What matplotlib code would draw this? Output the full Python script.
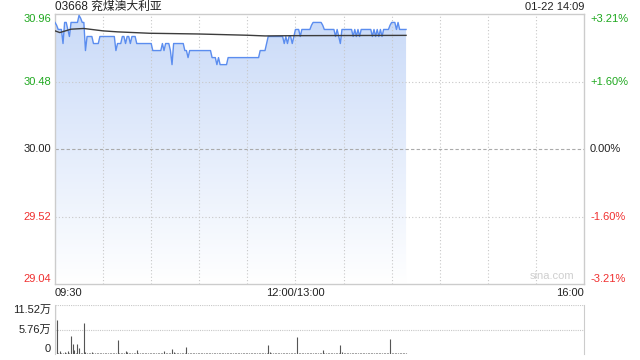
import numpy as np
import matplotlib
matplotlib.use("Agg")
import matplotlib.pyplot as plt
from matplotlib.patches import Polygon
from matplotlib.colors import to_rgb

plt.rcParams['font.family'] = ['Liberation Sans', 'Noto Sans CJK SC', 'DejaVu Sans']

# 分时数据 (每分钟, 09:30 起)
price = [
    30.90, 30.88, 30.85, 30.85, 30.85, 30.75, 30.90, 30.90, 30.85, 30.80,
    30.90, 30.90, 30.90, 30.90, 30.90, 30.95, 30.93, 30.90, 30.90, 30.70,
    30.80, 30.80, 30.80, 30.80, 30.75, 30.75, 30.75, 30.75, 30.80, 30.80,
    30.80, 30.80, 30.80, 30.80, 30.80, 30.80, 30.80, 30.80, 30.70, 30.75,
    30.75, 30.75, 30.80, 30.80, 30.75, 30.80, 30.80, 30.75, 30.80, 30.80,
    30.80, 30.75, 30.75, 30.75, 30.75, 30.75, 30.75, 30.75, 30.75, 30.75,
    30.75, 30.70, 30.70, 30.70, 30.70, 30.70, 30.70, 30.75, 30.70, 30.75,
    30.75, 30.75, 30.70, 30.60, 30.75, 30.75, 30.75, 30.75, 30.75, 30.75,
    30.75, 30.70, 30.70, 30.65, 30.70, 30.70, 30.70, 30.70, 30.70, 30.70,
    30.70, 30.70, 30.70, 30.70, 30.70, 30.70, 30.70, 30.70, 30.65, 30.65,
    30.65, 30.60, 30.65, 30.60, 30.60, 30.60, 30.60, 30.60, 30.65, 30.65,
    30.65, 30.65, 30.65, 30.65, 30.65, 30.65, 30.65, 30.65, 30.65, 30.65,
    30.65, 30.65, 30.65, 30.65, 30.65, 30.65, 30.65, 30.65, 30.70, 30.70,
    30.70, 30.70, 30.75, 30.80, 30.80, 30.80, 30.80, 30.80, 30.80, 30.80,
    30.80, 30.80, 30.80, 30.75, 30.80, 30.75, 30.80, 30.80, 30.75, 30.80,
    30.85, 30.85, 30.85, 30.80, 30.85, 30.85, 30.85, 30.85, 30.85, 30.85,
    30.88, 30.90, 30.90, 30.90, 30.90, 30.90, 30.90, 30.88, 30.85, 30.85,
    30.85, 30.85, 30.85, 30.85, 30.85, 30.80, 30.85, 30.80, 30.75, 30.85,
    30.85, 30.85, 30.85, 30.85, 30.85, 30.85, 30.80, 30.85, 30.80, 30.85,
    30.80, 30.85, 30.85, 30.85, 30.85, 30.85, 30.85, 30.85, 30.80, 30.85,
    30.80, 30.85, 30.80, 30.85, 30.80, 30.85, 30.85, 30.85, 30.85, 30.88,
    30.90, 30.90, 30.90, 30.85, 30.90, 30.85, 30.85, 30.85, 30.85, 30.85,
]

# 均价线
avg_min = [0, 3, 10, 18, 30, 39, 59, 89, 120, 131, 150, 219]
avg_price = [30.840, 30.828, 30.852, 30.857, 30.840, 30.833, 30.823,
             30.818, 30.809, 30.804, 30.806, 30.808]

# 成交量 (万)
volume = [
    11.52, 7.9, 0.3, 0.7, 0.3, 0.2, 0.4, 0.3, 0.7, 0.3,
    4.2, 2.4, 1.0, 0.3, 2.4, 1.5, 0.3, 0.2, 7.2, 0.4,
    0.3, 0.2, 0.2, 0.5, 0.2, 0.2, 0.3, 0.2, 0.2, 0.2,
    0.2, 0.3, 0.2, 0.2, 0.2, 0.3, 0.2, 0.2, 0.2, 3.2,
    0.3, 0.2, 0.2, 0.2, 0.7, 0.5, 0.2, 0.2, 0.3, 0.2,
    0.2, 1.0, 0.3, 0.2, 0.2, 0.2, 0.2, 0.3, 0.2, 0.2,
    0.2, 0.2, 0.2, 0.2, 0.2, 0.3, 0.2, 0.2, 0.7, 0.2,
    0.2, 0.2, 0.3, 1.1, 0.5, 0.2, 0.2, 0.2, 0.2, 0.3,
    0.2, 0.2, 1.6, 0.3, 0.2, 0.2, 0.2, 0.2, 0.2, 0.2,
    0.2, 0.2, 0.2, 0.3, 0.2, 0.2, 0.2, 0.2, 0.2, 0.2,
    0.2, 0.2, 0.2, 0.2, 0.2, 0.3, 0.2, 0.2, 0.2, 0.2,
    0.2, 0.2, 0.2, 0.2, 0.2, 0.2, 0.2, 0.3, 0.2, 0.2,
    0.2, 0.2, 0.2, 0.2, 0.2, 0.2, 0.2, 0.2, 0.2, 0.2,
    0.2, 0.2, 0.2, 2.2, 0.5, 0.3, 0.2, 0.2, 0.2, 0.2,
    0.2, 0.3, 0.2, 0.2, 0.2, 0.2, 0.3, 0.2, 0.2, 0.2,
    0.2, 3.9, 0.3, 0.2, 0.2, 0.2, 0.2, 0.2, 0.2, 0.2,
    0.2, 0.2, 0.2, 0.2, 0.2, 0.3, 0.2, 1.0, 0.3, 0.2,
    0.2, 0.2, 0.2, 0.2, 0.2, 0.3, 0.2, 0.2, 2.2, 0.4,
    0.2, 0.2, 0.2, 0.2, 0.2, 0.2, 0.2, 0.2, 0.3, 0.2,
    0.2, 0.2, 0.2, 0.2, 0.2, 0.2, 0.2, 0.2, 0.2, 0.2,
    0.2, 0.2, 0.3, 0.2, 0.2, 0.2, 0.2, 0.2, 0.2, 3.6,
    0.3, 0.2, 0.2, 0.2, 0.2, 0.2, 0.2, 0.2, 0.2, 0.2,
]

price_ticks = [30.96, 30.48, 30.00, 29.52, 29.04]
price_labels = ["30.96", "30.48", "30.00", "29.52", "29.04"]
pct_labels = ["+3.21%", "+1.60%", "0.00%", "-1.60%", "-3.21%"]
vol_ticks = [11.52, 5.76, 0]
vol_labels = ["11.52万", "5.76万", "0"]
time_ticks = [0, 150, 330]
time_labels = ["09:30", "12:00/13:00", "16:00"]

GREEN = '#1fa81f'
RED = '#f03030'
GRID = '#c8c8c8'
tick_colors = [GREEN, GREEN, '#222222', RED, RED]

W, H = 640, 360
fig = plt.figure(figsize=(6.4, 3.6), dpi=100)
ax = fig.add_axes([55 / W, 76 / H, 529 / W, 270 / H])

minutes = np.arange(len(price))
lo, hi = price_ticks[-1], price_ticks[0]

# 渐变填充
top_c = np.array(to_rgb('#c9daf8'))
bot_c = np.array(to_rgb('#ffffff'))
t = np.linspace(0, 1, 256)[:, None]
img = (top_c * (1 - t) + bot_c * t)[:, None, :]
verts = [(0, lo)] + list(zip(minutes, price)) + [(minutes[-1], lo)]
poly = Polygon(verts, closed=True, facecolor='none', edgecolor='none')
ax.add_patch(poly)
im = ax.imshow(img, extent=[0, minutes[-1], lo, hi], aspect='auto',
               origin='upper', zorder=1, interpolation='bilinear')
im.set_clip_path(poly)

ax.plot(minutes, price, color='#5b8def', lw=1, zorder=4)
ax.plot(avg_min, avg_price, color='#3c3c3c', lw=1, zorder=5)

ax.set_xlim(0, 330)
ax.set_ylim(lo, hi)

for m in range(30, 330, 30):
    ax.axvline(m, color=GRID, lw=0.8, ls=(0, (1, 2)), zorder=2)
for p in price_ticks[1:-1]:
    if p == 30.00:
        ax.axhline(p, color='#aaaaaa', lw=0.8, ls=(0, (3, 2)), zorder=2)
    else:
        ax.axhline(p, color=GRID, lw=0.8, ls=(0, (1, 2)), zorder=2)

ax.set_xticks([])
ax.set_yticks([])
for s in ax.spines.values():
    s.set_color('#cccccc')
    s.set_linewidth(1)

ytr = ax.get_yaxis_transform()
for i, (p, lab, pl, c) in enumerate(zip(price_ticks, price_labels, pct_labels, tick_colors)):
    va = 'top' if i == 0 else ('bottom' if i == len(price_ticks) - 1 else 'center')
    ax.text(-4 / 529, p, lab, transform=ytr, ha='right', va=va, fontsize=8, color=c)
    ax.text(1 + 6 / 529, p, pl, transform=ytr, ha='left', va=va, fontsize=8, color=c)

xtr = ax.get_xaxis_transform()
for m, lab, ha in zip(time_ticks, time_labels, ['left', 'center', 'right']):
    ax.text(m, -9 / 270, lab, transform=xtr, ha=ha, va='center', fontsize=8, color='#222222')

ax.text(1 - 10 / 529, 3 / 270, 'sina.com', transform=ax.transAxes, ha='right',
        va='bottom', fontsize=8, color='#cfcfcf')

fig.text(55 / W, 1 - 7 / H, '03668 兖煤澳大利亚', ha='left', va='center',
         fontsize=8.5, color='#222222')
fig.text(584 / W, 1 - 7 / H, '01-22 14:09', ha='right', va='center',
         fontsize=8, color='#222222')

# 成交量
vax = fig.add_axes([55 / W, 6 / H, 529 / W, 49 / H])
vax.vlines(minutes, 0, volume, color='#555555', lw=0.8)
vax.set_xlim(0, 330)
vax.set_ylim(0, vol_ticks[0])
for v in vol_ticks[:2]:
    vax.axhline(v, color=GRID, lw=0.8, ls=(0, (1, 1)), zorder=0)
vax.set_xticks([])
vax.set_yticks([])
vax.spines['top'].set_visible(False)
vax.spines['bottom'].set_visible(False)
vax.spines['left'].set_color('#cccccc')
vax.spines['right'].set_color('#cccccc')
vtr = vax.get_yaxis_transform()
for v, lab, va in zip(vol_ticks, vol_labels, ['top', 'center', 'bottom']):
    vax.text(-4 / 529, v, lab, transform=vtr, ha='right', va=va, fontsize=8, color='#222222')

fig.savefig('out.png', dpi=100)
